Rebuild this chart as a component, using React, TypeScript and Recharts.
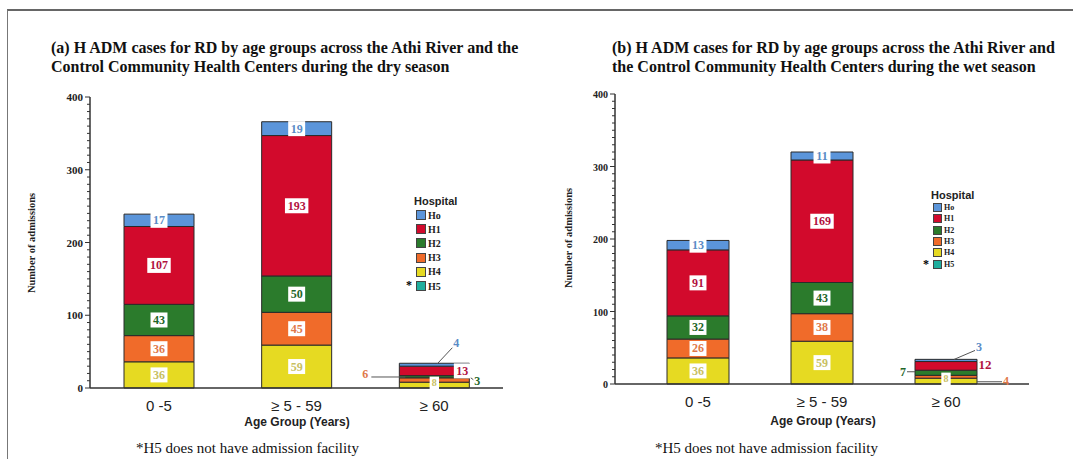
import React from "react";
import { Bar, BarChart, LabelList, XAxis, YAxis } from "recharts";

const categories = ["0 -5", "≥ 5 - 59", "≥ 60"];
const hospitals = ["H4", "H3", "H2", "H1", "Ho"];
const legendKeys = ["Ho", "H1", "H2", "H3", "H4", "H5"];

// dry season
const dryHo = [17, 19, 4];
const dryH1 = [107, 193, 13];
const dryH2 = [43, 50, 3];
const dryH3 = [36, 45, 6];
const dryH4 = [36, 59, 8];

// wet season
const wetHo = [13, 11, 3];
const wetH1 = [91, 169, 12];
const wetH2 = [32, 43, 7];
const wetH3 = [26, 38, 4];
const wetH4 = [36, 59, 8];

const yMajor = [0, 100, 200, 300, 400];
const yMinor = Array.from({ length: 41 }, (_, i) => i * 10);

const fills: Record<string, string> = {
  Ho: "#5b95da",
  H1: "#d20a2c",
  H2: "#2b7b2c",
  H3: "#f06b2a",
  H4: "#e6da22",
  H5: "#1fae9e",
};
const textColors: Record<string, string> = {
  Ho: "#5a8cc6",
  H1: "#b2123f",
  H2: "#1f6629",
  H3: "#e0784a",
  H4: "#c8c062",
};

const serif = "'Liberation Serif', 'DejaVu Serif', serif";
const sans = "'Liberation Sans', Arial, sans-serif";

type Place = { dx: number; dy: number; box?: boolean; line?: number[]; fs?: number };

// label placement for the small "≥ 60" stack
const dryPlace: Record<string, Place> = {
  H4: { dx: 0, dy: -2, box: true, fs: 10 },
  H3: { dx: -69, dy: -6, line: [-63, -3, -29, -3] },
  H2: { dx: 43, dy: 4, line: [35, 0, 39, 3] },
  H1: { dx: 28, dy: 0, box: true, fs: 12 },
  Ho: { dx: 22, dy: -22, line: [3, -1, 18, -17] },
};
const wetPlace: Record<string, Place> = {
  H4: { dx: 0, dy: -2, box: true, fs: 10 },
  H3: { dx: 60, dy: 4, line: [31, 5, 56, 5] },
  H2: { dx: -43, dy: -1, line: [-39, -1, -31, -1] },
  H1: { dx: 39, dy: -1, fs: 13 },
  Ho: { dx: 33, dy: -13, line: [8, -1, 29, -10] },
};

function makeRows(s: Record<string, number[]>) {
  return categories.map((c, i) => {
    const row: Record<string, any> = { cat: c };
    hospitals.forEach((h) => (row[h] = s[h][i]));
    return row;
  });
}

const dryRows = makeRows({ Ho: dryHo, H1: dryH1, H2: dryH2, H3: dryH3, H4: dryH4 });
const wetRows = makeRows({ Ho: wetHo, H1: wetH1, H2: wetH2, H3: wetH3, H4: wetH4 });

function labelFor(key: string, rows: any[], place: Record<string, Place>) {
  return (props: any) => {
    const vb = props.viewBox || props;
    const { x, y, width, height } = vb;
    const idx = props.index;
    const value = rows[idx][key];
    const cx = x + width / 2;
    const cy = y + height / 2;
    const color = textColors[key];
    const p: Place = idx === 2 ? place[key] : { dx: 0, dy: 0, box: true };
    const fs = p.fs || 12;
    const tx = cx + p.dx;
    const ty = cy + p.dy;
    const w = String(value).length * (fs * 0.54) + 4;
    const h = fs + 3;
    return (
      <g>
        {p.line && (
          <line x1={cx + p.line[0]} y1={cy + p.line[1]} x2={cx + p.line[2]} y2={cy + p.line[3]} stroke="#555" strokeWidth={1} />
        )}
        {p.box && <rect x={tx - w / 2} y={ty - h / 2} width={w} height={h} fill="#fff" />}
        <text x={tx} y={ty + fs / 3} textAnchor="middle" fontFamily={serif} fontWeight="bold" fontSize={fs} fill={color}>
          {value}
        </text>
      </g>
    );
  };
}

const YTick = (props: any) => {
  const { x, y, payload, fs } = props;
  const major = yMajor.includes(payload.value);
  return (
    <g>
      <line x1={x} x2={x - (major ? 5 : 3)} y1={y} y2={y} stroke="#333" strokeWidth={1} />
      {major && (
        <text x={x - 7} y={y + 4} textAnchor="end" fontFamily={serif} fontWeight="bold" fontSize={fs} fill="#222">
          {payload.value}
        </text>
      )}
    </g>
  );
};

const XTick = (props: any) => {
  const { x, y, payload } = props;
  return (
    <text x={x} y={y + 23} textAnchor="middle" fontFamily={sans} fontSize={15} fill="#222">
      {payload.value}
    </text>
  );
};

function Panel(props: {
  left: number;
  width: number;
  rows: any[];
  place: Record<string, Place>;
  margin: any;
  barSize: number;
  pad: number;
  tickFs: number;
  yLabel: number[];
  xLabel: number[];
}) {
  const { rows, place } = props;
  return (
    <div style={{ position: "absolute", left: props.left, top: 0 }}>
      <BarChart width={props.width} height={459} data={rows} margin={props.margin} barSize={props.barSize}>
        <XAxis
          dataKey="cat"
          height={30}
          stroke="#333"
          strokeWidth={1.5}
          tickLine={false}
          tickSize={0}
          tickMargin={0}
          tick={<XTick />}
          padding={{ left: props.pad, right: props.pad }}
          label={{
            content: () => (
              <text x={props.xLabel[0]} y={props.xLabel[1]} textAnchor="middle" fontFamily={sans} fontWeight="bold" fontSize={12} fill="#222">
                Age Group (Years)
              </text>
            ),
          }}
        />
        <YAxis
          width={40}
          domain={[0, 400]}
          ticks={yMinor}
          interval={0}
          stroke="#333"
          strokeWidth={1.5}
          tickLine={false}
          tickSize={0}
          tickMargin={0}
          tick={<YTick fs={props.tickFs} />}
          label={{
            content: () => (
              <text
                transform={`translate(${props.yLabel[0]},${props.yLabel[1]}) rotate(-90)`}
                textAnchor="middle"
                fontFamily={serif}
                fontWeight="bold"
                fontSize={10.5}
                fill="#222"
              >
                Number of admissions
              </text>
            ),
          }}
        />
        {hospitals.map((h) => (
          <Bar key={h} dataKey={h} stackId="a" fill={fills[h]} stroke="#2a2a2a" strokeWidth={1} isAnimationActive={false}>
            <LabelList dataKey={h} content={labelFor(h, rows, place)} />
          </Bar>
        ))}
      </BarChart>
    </div>
  );
}

function HospitalLegend(props: { x: number; y: number; sq: number; step: number; fs: number; titleFs: number }) {
  const { x, y, sq, step, fs, titleFs } = props;
  return (
    <div style={{ position: "absolute", left: x, top: y }}>
      <div style={{ fontFamily: sans, fontWeight: "bold", fontSize: titleFs, color: "#222", marginLeft: -2, lineHeight: "14px" }}>Hospital</div>
      {legendKeys.map((k) => (
        <div key={k} style={{ position: "relative", display: "flex", alignItems: "center", height: step }}>
          {k === "H5" && (
            <span style={{ position: "absolute", left: -10, fontFamily: serif, fontWeight: "bold", fontSize: 12, top: -1 }}>*</span>
          )}
          <span style={{ width: sq, height: sq, background: fills[k], border: "1px solid #444", boxSizing: "border-box", display: "inline-block" }} />
          <span style={{ fontFamily: serif, fontWeight: "bold", fontSize: fs, color: "#222", marginLeft: 2 }}>{k}</span>
        </div>
      ))}
    </div>
  );
}

const titleStyle: React.CSSProperties = {
  position: "absolute",
  fontFamily: serif,
  fontWeight: "bold",
  fontSize: 16,
  lineHeight: "19px",
  color: "#111",
  whiteSpace: "nowrap",
};
const noteStyle: React.CSSProperties = {
  position: "absolute",
  fontFamily: serif,
  fontSize: 15,
  color: "#111",
  whiteSpace: "nowrap",
};

export default function App() {
  return (
    <div style={{ position: "absolute", left: 0, top: 0, width: 1073, height: 459, background: "#fff", overflow: "hidden" }}>
      <div style={{ position: "absolute", left: 7, top: 9, width: 1080, height: 500, borderTop: "2px solid #666", borderLeft: "1.5px solid #777" }} />
      <div style={{ ...titleStyle, left: 51, top: 38 }}>
        (a) H ADM cases for RD by age groups across the Athi River and the
        <br />
        Control Community Health Centers during the dry season
      </div>
      <div style={{ ...titleStyle, left: 612, top: 38 }}>
        (b) H ADM cases for RD by age groups across the Athi River and
        <br />
        the Control Community Health Centers during the wet season
      </div>
      <Panel
        left={0}
        width={540}
        rows={dryRows}
        place={dryPlace}
        margin={{ top: 97, right: 37, bottom: 41, left: 50 }}
        barSize={70}
        pad={0}
        tickFs={11}
        yLabel={[35, 243]}
        xLabel={[297, 426]}
      />
      <Panel
        left={540}
        width={533}
        rows={wetRows}
        place={wetPlace}
        margin={{ top: 94, right: 44, bottom: 45, left: 35 }}
        barSize={62}
        pad={21}
        tickFs={10}
        yLabel={[32, 238]}
        xLabel={[283, 425]}
      />
      <HospitalLegend x={416} y={194} sq={10} step={14.2} fs={10} titleFs={11} />
      <HospitalLegend x={933} y={188} sq={9} step={11.3} fs={8} titleFs={11} />
      <div style={{ ...noteStyle, left: 136, top: 440 }}>*H5 does not have admission facility</div>
      <div style={{ ...noteStyle, left: 655, top: 440 }}>*H5 does not have admission facility</div>
    </div>
  );
}
